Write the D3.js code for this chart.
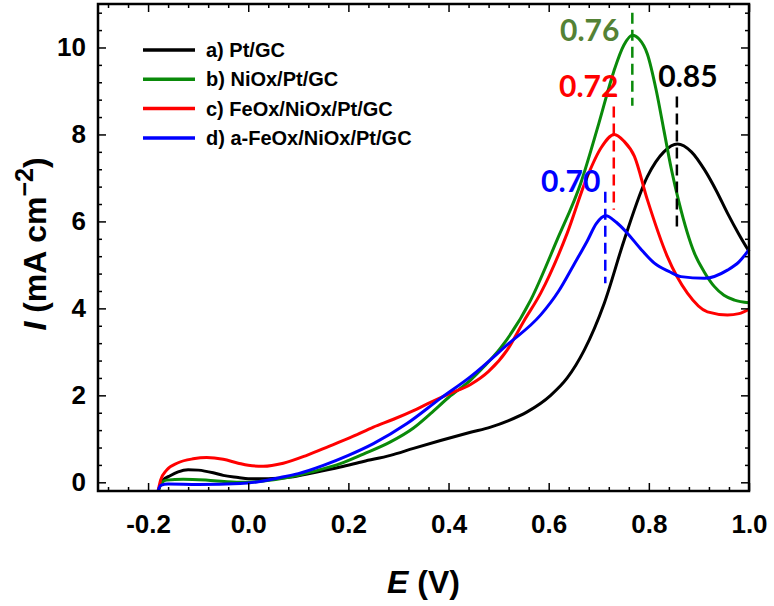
<!DOCTYPE html>
<html>
<head>
<meta charset="utf-8">
<script src="https://cdn.jsdelivr.net/npm/d3@7"></script>
<style>
  html, body { margin: 0; padding: 0; background: #fff; }
  svg { display: block; font-family: "Liberation Sans", Arial, sans-serif; }
</style>
</head>
<body>
<svg id="chart" width="774" height="606"></svg>
<script>
// ---- data ----
const seriesNames = ["a) Pt/GC", "b) NiOx/Pt/GC", "c) FeOx/NiOx/Pt/GC", "d) a-FeOx/NiOx/Pt/GC"];
const seriesColors = ["#000000", "#0a8a0a", "#ff0000", "#0000ff"];

const E_a = [-0.18,-0.17,-0.156,-0.14,-0.12,-0.10,-0.07,-0.05,-0.02,0.0,0.04,0.084,0.13,0.184,0.23,0.284,0.33,0.384,0.444,0.484,0.52,0.557,0.604,0.637,0.671,0.711,0.751,0.797,0.83,0.857,0.885,0.911,0.935,0.957,0.98,1.0];
const I_a = [-0.2,0.05,0.15,0.24,0.29,0.28,0.22,0.16,0.11,0.08,0.08,0.12,0.22,0.35,0.48,0.62,0.78,0.96,1.15,1.27,1.42,1.62,2.0,2.4,3.04,4.12,5.58,7.03,7.6,7.78,7.6,7.19,6.7,6.19,5.7,5.31];

const E_b = [-0.18,-0.172,-0.163,-0.13,-0.08,-0.016,0.03,0.084,0.13,0.184,0.23,0.284,0.33,0.364,0.40,0.444,0.47,0.504,0.564,0.617,0.664,0.70,0.73,0.75,0.767,0.78,0.797,0.815,0.83,0.845,0.86,0.891,0.91,0.931,0.95,0.971,1.0];
const I_b = [-0.2,0.0,0.05,0.07,0.05,0.0,0.03,0.12,0.25,0.43,0.65,0.93,1.25,1.58,1.95,2.35,2.65,3.09,4.19,5.58,6.88,8.25,9.45,10.05,10.28,10.2,9.85,9.0,8.1,7.2,6.45,5.27,4.85,4.5,4.3,4.19,4.13];

const E_c = [-0.18,-0.175,-0.163,-0.14,-0.11,-0.083,-0.05,-0.02,0.0,0.03,0.07,0.117,0.16,0.21,0.25,0.29,0.33,0.364,0.40,0.444,0.48,0.517,0.55,0.584,0.637,0.677,0.705,0.731,0.75,0.771,0.797,0.837,0.877,0.917,0.957,0.98,1.0];
const I_c = [-0.2,0.05,0.28,0.45,0.54,0.57,0.53,0.44,0.39,0.37,0.44,0.62,0.82,1.06,1.27,1.45,1.65,1.84,2.03,2.25,2.55,3.04,3.7,4.35,5.73,7.03,7.7,8.0,7.85,7.5,6.5,5.19,4.35,3.92,3.85,3.88,3.98];

const E_d = [-0.18,-0.175,-0.16,-0.10,-0.016,0.03,0.064,0.10,0.15,0.20,0.25,0.317,0.384,0.444,0.517,0.584,0.62,0.65,0.677,0.695,0.714,0.735,0.757,0.785,0.811,0.84,0.864,0.911,0.957,0.98,1.0];
const I_d = [-0.2,-0.07,-0.04,-0.05,-0.03,0.03,0.11,0.2,0.39,0.62,0.89,1.35,1.93,2.43,3.16,3.85,4.4,5.0,5.55,5.95,6.13,5.98,5.73,5.35,5.04,4.85,4.73,4.69,4.88,5.07,5.35];

const xTickValues = [-0.2, 0.0, 0.2, 0.4, 0.6, 0.8, 1.0];
const yTickValues = [0, 2, 4, 6, 8, 10];

// peak annotations: label text, peak potential, dashed line span (current units)
const peakLabels = ["0.85", "0.76", "0.72", "0.70"];
const peakE = [0.856, 0.767, 0.73, 0.713];
const dashTop = [8.87, 10.8, 8.64, 6.68];
const dashBottom = [5.8, 8.66, 6.27, 4.58];

// ---- layout ----
const svg = d3.select("#chart");
const x = d3.scaleLinear().domain([-0.3, 1.0]).range([98, 749]);
const y = d3.scaleLinear().domain([-0.2, 11]).range([491, 4]);

const series = [
  {E: E_a, I: I_a}, {E: E_b, I: I_b}, {E: E_c, I: I_c}, {E: E_d, I: I_d}
];

const line = d3.line()
  .x(d => x(d[0])).y(d => y(d[1]))
  .curve(d3.curveMonotoneX);

const plot = svg.append("g");
series.forEach((s, i) => {
  const pts = s.E.map((e, k) => [e, s.I[k]]);
  plot.append("path")
    .attr("d", line(pts))
    .attr("fill", "none")
    .attr("stroke", seriesColors[i])
    .attr("stroke-width", 3)
    .attr("stroke-linejoin", "round");
});

// ticks (inward on all four sides)
const x0 = x.range()[0], x1 = x.range()[1];
const y0 = y.range()[0], y1 = y.range()[1];
const xMinor = d3.range(-0.28, 1.0, 0.04).filter(v => xTickValues.every(t => Math.abs(t - v) > 1e-6));
const yMinor = d3.range(0.4, 11, 0.4).filter(v => yTickValues.every(t => Math.abs(t - v) > 1e-6));

function styleAxis(g) {
  g.select(".domain").remove();
  g.selectAll(".tick line").attr("stroke", "#000").attr("stroke-width", 1.5);
}

const labelFont = "bold 26px 'Liberation Sans', Arial, sans-serif";
const fmtX = v => d3.format(".1f")(v).replace("\u2212", "-");

svg.append("g").attr("transform", `translate(0,${y0})`)
  .call(d3.axisBottom(x).tickValues(xTickValues).tickSize(-8).tickPadding(24).tickFormat(fmtX))
  .call(styleAxis)
  .call(g => g.selectAll("text").style("font", labelFont).attr("fill", "#000"));
svg.append("g").attr("transform", `translate(0,${y0})`)
  .call(d3.axisBottom(x).tickValues(xMinor).tickSize(-4).tickFormat(""))
  .call(styleAxis);
svg.append("g").attr("transform", `translate(0,${y1})`)
  .call(d3.axisTop(x).tickValues(xTickValues).tickSize(-8).tickFormat(""))
  .call(styleAxis);
svg.append("g").attr("transform", `translate(0,${y1})`)
  .call(d3.axisTop(x).tickValues(xMinor).tickSize(-4).tickFormat(""))
  .call(styleAxis);

svg.append("g").attr("transform", `translate(${x0},0)`)
  .call(d3.axisLeft(y).tickValues(yTickValues).tickSize(-8).tickPadding(12).tickFormat(d3.format("d")))
  .call(styleAxis)
  .call(g => g.selectAll("text").style("font", labelFont).attr("fill", "#000"));
svg.append("g").attr("transform", `translate(${x0},0)`)
  .call(d3.axisLeft(y).tickValues(yMinor).tickSize(-4).tickFormat(""))
  .call(styleAxis);
svg.append("g").attr("transform", `translate(${x1},0)`)
  .call(d3.axisRight(y).tickValues(yTickValues).tickSize(-8).tickFormat(""))
  .call(styleAxis);
svg.append("g").attr("transform", `translate(${x1},0)`)
  .call(d3.axisRight(y).tickValues(yMinor).tickSize(-4).tickFormat(""))
  .call(styleAxis);

// frame
svg.append("rect")
  .attr("x", x0).attr("y", y1)
  .attr("width", x1 - x0).attr("height", y0 - y1)
  .attr("fill", "none").attr("stroke", "#000").attr("stroke-width", 2.5);

// peak annotations
const labelColors = ["#000000", "#548235", "#ff0000", "#0000ff"];
const lineColors = ["#000000", "#0a8a0a", "#ff0000", "#0000ff"];
const labelAnchorE = [0.878, 0.682, 0.680, 0.644];
const labelBaseI = [9.08, 10.15, 8.87, 6.68];
peakLabels.forEach((t, i) => {
  svg.append("line")
    .attr("x1", x(peakE[i])).attr("x2", x(peakE[i]))
    .attr("y1", y(dashTop[i])).attr("y2", y(dashBottom[i]))
    .attr("stroke", lineColors[i]).attr("stroke-width", 2.5)
    .attr("stroke-dasharray", "11,6");
  svg.append("text")
    .attr("x", x(labelAnchorE[i])).attr("y", y(labelBaseI[i]))
    .attr("text-anchor", "middle")
    .attr("fill", labelColors[i])
    .style("font", "bold 30px Lato, 'Open Sans', sans-serif")
    .text(t);
});

// legend
const leg = svg.append("g");
seriesNames.forEach((name, i) => {
  const ly = 50 + i * 29.3;
  leg.append("line").attr("x1", 143).attr("x2", 195).attr("y1", ly).attr("y2", ly)
    .attr("stroke", seriesColors[i]).attr("stroke-width", 3.5);
  leg.append("text").attr("x", 206).attr("y", ly).attr("dy", "0.35em")
    .style("font", "bold 20px 'Liberation Sans', Arial, sans-serif")
    .attr("fill", "#000").text(name);
});

// axis titles
const xt = svg.append("text")
  .attr("x", (x0 + x1) / 2).attr("y", 593)
  .attr("text-anchor", "middle")
  .style("font", "bold 32px 'Liberation Sans', Arial, sans-serif");
xt.append("tspan").style("font-style", "italic").text("E");
xt.append("tspan").text(" (V)");

const yt = svg.append("text")
  .attr("transform", "translate(46,244) rotate(-90)")
  .attr("text-anchor", "middle")
  .style("font", "bold 32px 'Liberation Sans', Arial, sans-serif");
yt.append("tspan").style("font-style", "italic").text("I");
yt.append("tspan").text(" (mA cm");
yt.append("tspan").attr("dy", -13).style("font-size", "25px").text("\u22122");
yt.append("tspan").attr("dy", 13).text(")");
</script>
</body>
</html>
